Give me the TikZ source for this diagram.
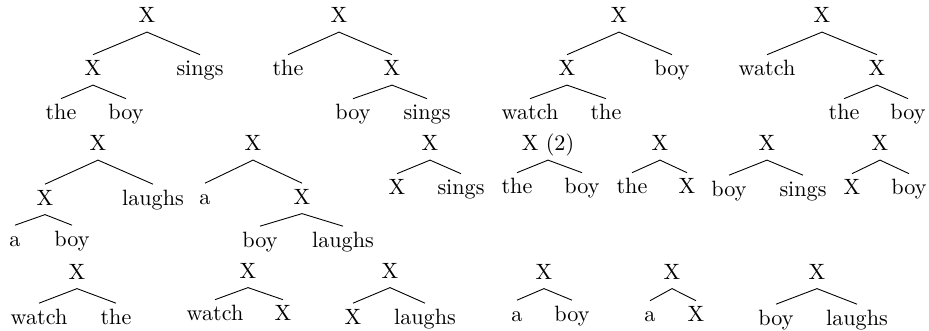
\documentclass[tikz,border=0pt]{standalone}
\usepackage{tikz}
\tikzset{
  lbl/.style={anchor=base, inner xsep=1pt, inner ysep=2.2pt,
              text height=7pt, text depth=1.94pt},
  br/.style={draw=black, line width=0.4pt},
}
\begin{document}
\begin{tikzpicture}[x=0.4515pt,y=-0.4515pt]
\useasboundingbox (0,0) rectangle (929,330);

\node[lbl] (a) at (147,22.5) {X};
\node[lbl] (a1) at (93,75.5) {X};
\node[lbl] (a2) at (200,75.5) {sings};
\node[lbl] (a11) at (61,119.5) {the};
\node[lbl] (a12) at (126,119.5) {boy};

\node[lbl] (b) at (339,22.5) {X};
\node[lbl] (b1) at (288,75.5) {the};
\node[lbl] (b2) at (392,75.5) {X};
\node[lbl] (b21) at (353,119.5) {boy};
\node[lbl] (b22) at (427,119.5) {sings};

\node[lbl] (c) at (619,22.5) {X};
\node[lbl] (c1) at (567,75.5) {X};
\node[lbl] (c2) at (672,75.5) {boy};
\node[lbl] (c11) at (530,119.5) {watch};
\node[lbl] (c12) at (606,119.5) {the};

\node[lbl] (d) at (822,22.5) {X};
\node[lbl] (d1) at (767,75.5) {watch};
\node[lbl] (d2) at (877,75.5) {X};
\node[lbl] (d21) at (844,119.5) {the};
\node[lbl] (d22) at (908,119.5) {boy};

\node[lbl] (e) at (98,150.5) {X};
\node[lbl] (e1) at (45,205) {X};
\node[lbl] (e2) at (153,205) {laughs};
\node[lbl] (e11) at (15,246) {a};
\node[lbl] (e12) at (72,246) {boy};

\node[lbl] (f) at (253,150.5) {X};
\node[lbl] (f1) at (205,204) {a};
\node[lbl] (f2) at (302,204) {X};
\node[lbl] (f21) at (260,247) {boy};
\node[lbl] (f22) at (343,247) {laughs};

\node[lbl] (g) at (430,150.5) {X};
\node[lbl] (g1) at (397,194.5) {X};
\node[lbl] (g2) at (461,194.5) {sings};

\node[lbl] (h) at (548,150.5) {X (2)};
\node[lbl] (h1) at (517,193.5) {the};
\node[lbl] (h2) at (582,193.5) {boy};

\node[lbl] (i) at (660,150.5) {X};
\node[lbl] (i1) at (632,193.5) {the};
\node[lbl] (i2) at (687,193.5) {X};

\node[lbl] (j) at (767,150.5) {X};
\node[lbl] (j1) at (729,196) {boy};
\node[lbl] (j2) at (803,196) {sings};

\node[lbl] (k) at (880,150.5) {X};
\node[lbl] (k1) at (852,194.5) {X};
\node[lbl] (k2) at (909,194.5) {boy};

\node[lbl] (l) at (77,279) {X};
\node[lbl] (l1) at (39,324) {watch};
\node[lbl] (l2) at (116,324) {the};

\node[lbl] (m) at (248,278) {X};
\node[lbl] (m1) at (215,320.5) {watch};
\node[lbl] (m2) at (283,320.5) {X};

\node[lbl] (n) at (390,278) {X};
\node[lbl] (n1) at (353,324) {X};
\node[lbl] (n2) at (425,324) {laughs};

\node[lbl] (o) at (544,279) {X};
\node[lbl] (o1) at (517,321) {a};
\node[lbl] (o2) at (572,321) {boy};

\node[lbl] (p) at (672,279) {X};
\node[lbl] (p1) at (650,321.5) {a};
\node[lbl] (p2) at (696,321.5) {X};

\node[lbl] (q) at (817,279) {X};
\node[lbl] (q1) at (776,325) {boy};
\node[lbl] (q2) at (857,325) {laughs};

\draw[br] (a.south)--(a1.north); \draw[br] (a.south)--(a2.north);
\draw[br] (a1.south)--(a11.north); \draw[br] (a1.south)--(a12.north);
\draw[br] (b.south)--(b1.north); \draw[br] (b.south)--(b2.north);
\draw[br] (b2.south)--(b21.north); \draw[br] (b2.south)--(b22.north);
\draw[br] (c.south)--(c1.north); \draw[br] (c.south)--(c2.north);
\draw[br] (c1.south)--(c11.north); \draw[br] (c1.south)--(c12.north);
\draw[br] (d.south)--(d1.north); \draw[br] (d.south)--(d2.north);
\draw[br] (d2.south)--(d21.north); \draw[br] (d2.south)--(d22.north);
\draw[br] (e.south)--(e1.north); \draw[br] (e.south)--(e2.north);
\draw[br] (e1.south)--(e11.north); \draw[br] (e1.south)--(e12.north);
\draw[br] (f.south)--(f1.north); \draw[br] (f.south)--(f2.north);
\draw[br] (f2.south)--(f21.north); \draw[br] (f2.south)--(f22.north);
\draw[br] (g.south)--(g1.north); \draw[br] (g.south)--(g2.north);
\draw[br] (h.south)--(h1.north); \draw[br] (h.south)--(h2.north);
\draw[br] (i.south)--(i1.north); \draw[br] (i.south)--(i2.north);
\draw[br] (j.south)--(j1.north); \draw[br] (j.south)--(j2.north);
\draw[br] (k.south)--(k1.north); \draw[br] (k.south)--(k2.north);
\draw[br] (l.south)--(l1.north); \draw[br] (l.south)--(l2.north);
\draw[br] (m.south)--(m1.north); \draw[br] (m.south)--(m2.north);
\draw[br] (n.south)--(n1.north); \draw[br] (n.south)--(n2.north);
\draw[br] (o.south)--(o1.north); \draw[br] (o.south)--(o2.north);
\draw[br] (p.south)--(p1.north); \draw[br] (p.south)--(p2.north);
\draw[br] (q.south)--(q1.north); \draw[br] (q.south)--(q2.north);
\end{tikzpicture}
\end{document}
